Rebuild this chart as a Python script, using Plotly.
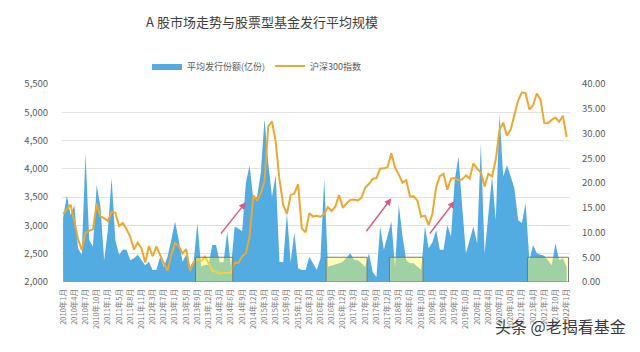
import plotly.graph_objects as go

# ---------------- data ----------------
start_year, end_year = 2010, 2022
missing_months = ["2011-04", "2012-01", "2012-05", "2012-09", "2012-10", "2012-11",
                  "2013-04", "2013-08", "2018-08"]

months = []
for y in range(start_year, end_year + 1):
    for m in range(1, 13):
        key = f"{y}-{m:02d}"
        if y == 2022 and m > 1:
            break
        if key in missing_months:
            continue
        months.append(key)
labels = [f"{k[:4]}年{int(k[5:])}月" for k in months]

# 沪深300指数 (left axis)
hs300 = [3204, 3282, 3368, 3068, 2760, 2564, 2869, 2903, 2936, 3386, 3159, 3128,
         3077, 3240, 3223, 2990, 3044, 2937, 2800, 2572, 2695, 2600, 2346,
         2634, 2455, 2627, 2462, 2332, 2204, 2480,
         2688, 2640, 2505, 2580, 2200, 2350, 2400, 2370, 2450, 2330,
         2203, 2178, 2146, 2158, 2160, 2165, 2344, 2338, 2451, 2509, 2809, 3533,
         3434, 3572, 3786, 4749, 4840, 4473, 3816, 3366, 3203, 3534, 3566, 3731,
         2946, 2877, 3218, 3156, 3170, 3154, 3203, 3327, 3253, 3336, 3538, 3311,
         3387, 3452, 3456, 3439, 3493, 3666, 3737, 3822, 3837, 4006, 4006, 4031,
         4275, 4023, 3899, 3756, 3802, 3510, 3517, 3438, 3153, 3173, 3011,
         3202, 3670, 3872, 3913, 3630, 3826, 3836, 3799, 3814, 3886, 3828, 4097,
         4003, 3940, 3687, 3913, 3868, 4164, 4695, 4817, 4587, 4695, 4960, 5211,
         5352, 5336, 5049, 5124, 5331, 5224, 4812, 4806, 4866, 4908, 4833, 4940,
         4563]

# 平均发行份额(亿份) (right axis)
fund_size = [13.0, 17.5, 13.5, 15.5, 6.8, 5.5, 26.0, 8.5, 7.1, 19.6, 15.2, 4.4,
             10.5, 21.0, 8.5, 5.5, 6.5, 6.5, 4.4, 4.8, 5.5, 4.4, 3.4,
             4.1, 2.4, 2.4, 5.1, 3.1, 5.1, 8.5,
             12.2, 8.5, 4.1, 5.5, 3.1, 4.1, 11.9, 3.1, 3.5, 3.5,
             7.5, 7.5, 4.0, 4.0, 10.2, 3.0, 11.2, 10.8, 10.2, 20.0, 23.6, 16.6,
             17.2, 22.0, 33.0, 24.0, 17.2, 21.6, 4.1, 4.0, 14.0, 4.0, 10.0, 2.8,
             2.4, 2.4, 5.1, 3.8, 2.4, 4.8, 21.0, 3.1, 3.3, 3.5, 3.8, 4.1,
             4.9, 5.8, 4.5, 4.4, 3.8, 3.0, 5.8, 2.0, 1.0, 11.2, 6.5, 9.2,
             12.2, 3.0, 15.6, 9.2, 4.4, 3.8, 3.8, 3.1, 2.4, 11.2, 6.8,
             8.0, 10.5, 6.5, 6.5, 11.5, 9.2, 20.6, 25.3, 15.2, 5.8, 8.5, 11.2,
             7.8, 28.0, 5.8, 14.0, 21.3, 12.5, 34.0, 21.3, 23.6, 21.3, 18.9, 12.5,
             11.9, 15.9, 4.4, 7.5, 5.8, 5.5, 5.3, 4.4, 3.4, 7.8, 4.4, 4.8,
             3.1]

# highlighted periods (category spans) and arrows (category, index value)
box_spans = [("2013-09", "2014-06"), ("2016-08", "2017-06"), ("2018-01", "2018-10"), ("2021-03", "2022-01")]
arrows = [(("2014-03", 2830), ("2014-10", 3410)),
          (("2017-06", 2870), ("2018-01", 3480)),
          (("2018-12", 2830), ("2019-07", 3430))]

title = "A 股市场走势与股票型基金发行平均规模"
name_fund = "平均发行份额(亿份)"
name_idx = "沪深300指数"
watermark = "头条 @老揭看基金"

# ---------------- figure ----------------
x = list(range(len(months)))
font_cjk = "Noto Sans CJK SC, Noto Sans, sans-serif"
BLUE = "#52ABE1"
ORANGE = "#EBA832"
L, R, T, B = 62, 70, 84, 70
PW, PH = 640 - L - R, 352 - T - B

fig = go.Figure()
fig.add_trace(go.Scatter(x=x, y=fund_size, name=name_fund, mode="lines",
                         line=dict(width=0, color=BLUE), fill="tozeroy",
                         fillcolor=BLUE, yaxis="y", hoverinfo="skip"))
fig.add_trace(go.Scatter(x=x, y=hs300, name=name_idx, mode="lines",
                         line=dict(width=2, color=ORANGE), yaxis="y2"))

idx = {m: i for i, m in enumerate(months)}
shapes = []
for a, b in box_spans:
    shapes.append(dict(type="rect", xref="x", yref="y", x0=idx[a] - 0.5, x1=idx[b] + 0.5,
                       y0=0, y1=5, fillcolor="rgba(255,255,90,0.45)",
                       line=dict(color="#7a7a7a", width=1), layer="above"))

annotations = []
for (ta, tv), (ha, hv) in arrows:
    annotations.append(dict(x=idx[ha], y=hv, xref="x", yref="y2",
                            ax=idx[ta], ay=tv, axref="x", ayref="y2",
                            text="", showarrow=True, arrowhead=2, arrowsize=1,
                            arrowwidth=1.4, arrowcolor="#D65C84"))
annotations.append(dict(text=watermark, x=(628 - L) / PW, y=(282 - 326) / PH,
                        xref="paper", yref="paper", xanchor="right", yanchor="middle",
                        showarrow=False,
                        font=dict(size=16, color="#3a3a3a", family=font_cjk,
                                  shadow="0px 0px 3px white")))

fig.update_layout(
    width=640, height=352,
    margin=dict(l=L, r=R, t=T, b=B),
    paper_bgcolor="white", plot_bgcolor="white",
    title=dict(text=title, x=262 / 640, xanchor="center", y=1 - 22 / 352, yanchor="middle",
               font=dict(size=13, color="#404040", family=font_cjk)),
    font=dict(family=font_cjk, color="#595959"),
    showlegend=True,
    legend=dict(orientation="h", x=(257 - L) / PW, xanchor="center", y=(282 - 66) / PH,
                yanchor="middle", font=dict(size=9, color="#595959"), itemwidth=30,
                bgcolor="rgba(0,0,0,0)"),
    xaxis=dict(range=[-0.3, 135.9], showgrid=False, zeroline=False, showline=False,
               tickmode="array", tickvals=x[::3], ticktext=labels[::3], tickangle=-90,
               ticks="outside", ticklen=3, tickcolor="rgba(0,0,0,0)",
               tickfont=dict(size=7.5, color="#808080")),
    yaxis=dict(side="right", range=[0, 40], dtick=5, tickformat=".2f", showgrid=False,
               zeroline=False, ticks="outside", ticklen=9, tickcolor="rgba(0,0,0,0)",
               tickfont=dict(size=9.5, color="#595959")),
    yaxis2=dict(side="left", overlaying="y", range=[2000, 5500], dtick=500, tickformat=",",
                showgrid=True, gridcolor="#E3E3E3", gridwidth=1, zeroline=False,
                ticks="outside", ticklen=11, tickcolor="rgba(0,0,0,0)",
                tickfont=dict(size=9.5, color="#595959")),
    shapes=shapes, annotations=annotations,
)

fig.write_html("out.html")
